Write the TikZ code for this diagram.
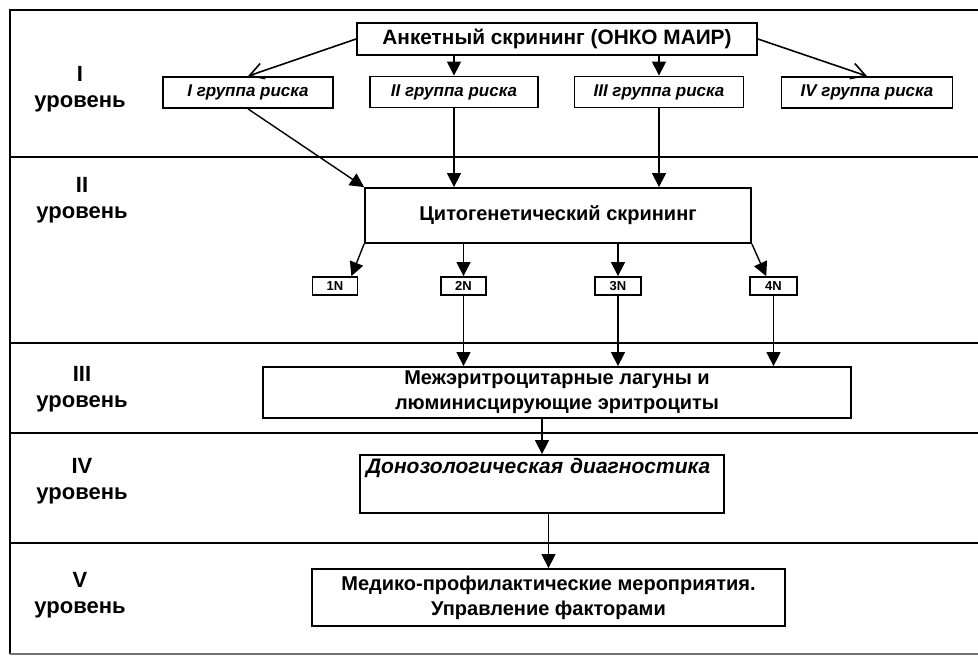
\documentclass[tikz,border=0pt]{standalone}
\usepackage{fontspec}
\setmainfont{Liberation Sans}
\usetikzlibrary{arrows.meta,calc}

\begin{document}
\begin{tikzpicture}[
    x=0.5pt, y=-0.5pt,
    box/.style={rectangle, draw, line width=0.9pt, align=center, inner sep=1pt, font=\bfseries\fontsize{10}{12.5}\selectfont},
    grp/.style={box, minimum width=85pt, minimum height=15.5pt, font=\bfseries\itshape\fontsize{8.5}{10}\selectfont},
    nbox/.style={box, minimum width=22.5pt, minimum height=9pt, font=\bfseries\fontsize{6.5}{7}\selectfont},
    lvl/.style={align=center, font=\bfseries\fontsize{11}{13}\selectfont},
    arr/.style={-{Triangle[width=7pt,length=7pt]}, line width=0.7pt},
    barb/.style={-{Straight Barb[width=8pt,length=7pt]}, line width=0.8pt},
    band/.style={line width=1pt}
]

\useasboundingbox (0,0) rectangle (978,658);

% Frame and level bands
\draw[band] (978,10) -- (10,10) -- (10,654);
\draw[line width=0.6pt, black!55] (10,654) -- (978,654);
\foreach \y in {157,343,433,543}
    \draw[band] (10,\y) -- (978,\y);

% Level labels
\node[lvl] (lvl1) at (80,89) {I\\уровень};
\node[lvl] (lvl2) at (82,200) {II\\уровень};
\node[lvl] (lvl3) at (82,389) {III\\уровень};
\node[lvl] (lvl4) at (82,481) {IV\\уровень};
\node[lvl] (lvl5) at (80,595) {V\\уровень};

% Level I
\node[box, minimum width=200pt, minimum height=16pt, font=\bfseries\fontsize{10.4}{12.5}\selectfont] (scr) at (557,39) {Анкетный скрининг (ОНКО МАИР)};
\node[grp] (g1) at (248,92.5) {I группа риска};
\node[grp, minimum width=84pt] (g2) at (454,92) {II группа риска};
\node[grp, minimum width=84.5pt] (g3) at (659,92) {III группа риска};
\node[grp, minimum width=85.5pt] (g4) at (867,92.5) {IV группа риска};

% Level II
\node[box, minimum width=193pt, minimum height=27.5pt] (cyto) at (558,215.5) {Цитогенетический скрининг};
\node[nbox] (n1) at (335,286) {1N};
\node[nbox] (n2) at (463.5,286) {2N};
\node[nbox, minimum width=23pt] (n3) at (618,286) {3N};
\node[nbox, minimum width=23.5pt] (n4) at (773.5,286) {4N};

% Level III
\node[box, minimum width=294pt, minimum height=25.5pt] (mez) at (557,392.5) {Межэритроцитарные лагуны и\\люминисцирующие эритроциты};

% Level IV
\node[box, minimum width=182pt, text width=176pt, align=left, inner xsep=3pt, text height=8pt, text depth=19pt, font=\bfseries\itshape\fontsize{10.5}{12}\selectfont] (dono) at (542,484) {Донозологическая диагностика};

% Level V
\node[box, minimum width=236.5pt, minimum height=28.5pt] (med) at (548.5,597.5) {Медико-профилактические мероприятия.\\Управление факторами};

% Arrows
\draw[barb] (scr.west) -- (g1.north);
\draw[barb] (scr.east) -- (g4.north);
\draw[arr] (scr.south -| g2.north) -- (g2.north);
\draw[arr] (scr.south -| g3.north) -- (g3.north);
\draw[arr] (g1.south) -- (cyto.north west);
\draw[arr] (g2.south) -- (g2.south |- cyto.north);
\draw[arr] (g3.south) -- (g3.south |- cyto.north);
\draw[arr] (cyto.south west) -- ($(n1.north)!0.7!(n1.north east)$);
\draw[arr] (cyto.south -| n2.north) -- (n2.north);
\draw[arr] (cyto.south -| n3.north) -- (n3.north);
\draw[arr] (cyto.south east) -- ($(n4.north)!0.3!(n4.north west)$);
\draw[arr] (n2.south) -- (n2.south |- mez.north);
\draw[arr] (n3.south) -- (n3.south |- mez.north);
\draw[arr] (n4.south) -- (n4.south |- mez.north);
\draw[arr] (mez.south -| dono.north) -- (dono.north);
\draw[arr] (dono.south -| med.north) -- (med.north);

\end{tikzpicture}
\end{document}
